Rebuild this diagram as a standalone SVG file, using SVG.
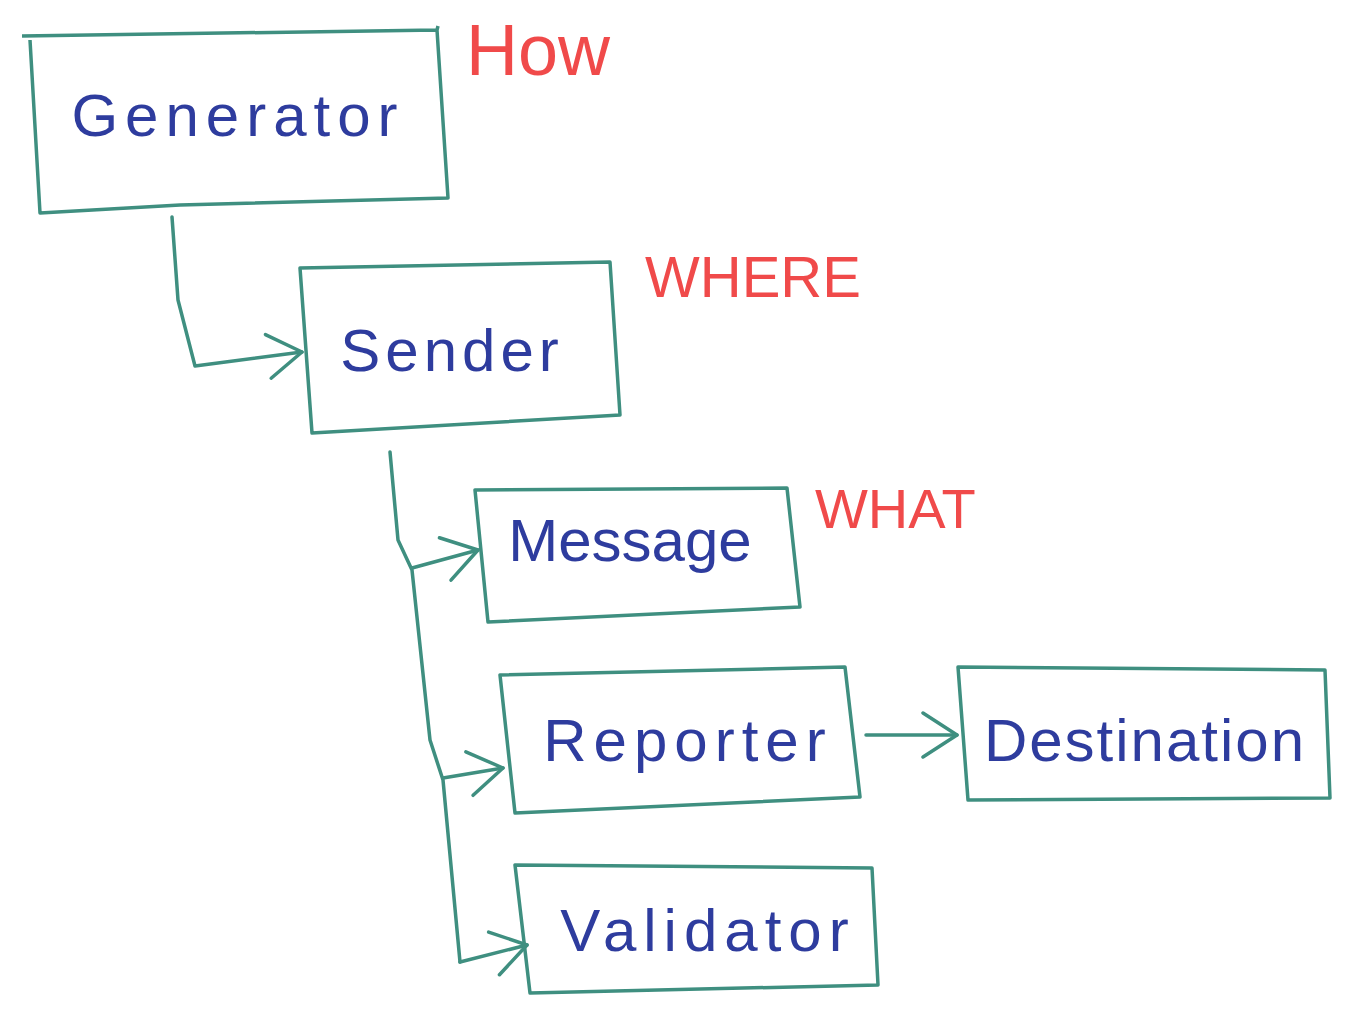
<svg xmlns="http://www.w3.org/2000/svg" width="1364" height="1020" viewBox="0 0 1364 1020">
<style>
.box{fill:none;stroke:#3f8f80;stroke-width:3.5;stroke-linejoin:round}
.conn{fill:none;stroke:#3f8f80;stroke-width:3.5;stroke-linecap:round;stroke-linejoin:round}
.lbl{font-family:"Liberation Sans",Arial,sans-serif;fill:#2e3c9e;font-size:60px;text-anchor:middle;dominant-baseline:central}
.tag{font-family:"Liberation Sans",Arial,sans-serif;fill:#f04a4a}
</style>
<defs>
<marker id="chevL" viewBox="0 0 40 50" refX="38" refY="25" markerWidth="40" markerHeight="50" markerUnits="userSpaceOnUse" orient="auto">
<path d="M4,3 L38,25 L4,47" fill="none" stroke="#3f8f80" stroke-width="3.5" stroke-linecap="round" stroke-linejoin="round"/>
</marker>
</defs>
<rect width="1364" height="1020" fill="#ffffff"/>
<g id="connectors">
<path class="conn" d="M172,217 L178,300 L195,366 L302,352" marker-end="url(#chevL)"/>
<path class="conn" d="M390,452 L398,540 L412,570 L430,740 L443,780 L460,962"/>
<path class="conn" d="M412,568 L478,550" marker-end="url(#chevL)"/>
<path class="conn" d="M443,778 L503,768" marker-end="url(#chevL)"/>
<path class="conn" d="M460,962 L527,945" marker-end="url(#chevL)"/>
<path class="conn" d="M866,735 L957,735" marker-end="url(#chevL)"/>
</g>
<g id="generator">
<path class="box" d="M22,36 L437,30 L438,26 M30,40 L40,213 L180,205 L448,198 L437,30"/>
<text class="lbl" x="238" y="115" letter-spacing="7">Generator</text>
</g>
<g id="sender">
<path class="box" d="M300,268 L610,262 L620,415 L312,433 Z"/>
<text class="lbl" x="452" y="350" letter-spacing="5">Sender</text>
</g>
<g id="message">
<path class="box" d="M475,490 L787,488 L800,607 L488,622 Z"/>
<text class="lbl" x="630" y="540">Message</text>
</g>
<g id="reporter">
<path class="box" d="M500,675 L845,667 L860,797 L515,813 Z"/>
<text class="lbl" x="688" y="740" letter-spacing="7">Reporter</text>
</g>
<g id="destination">
<path class="box" d="M958,667 L1325,670 L1330,798 L968,800 Z"/>
<text class="lbl" x="1145" y="740" letter-spacing="2">Destination</text>
</g>
<g id="validator">
<path class="box" d="M515,865 L872,868 L878,985 L530,993 Z"/>
<text class="lbl" x="708" y="930" letter-spacing="7">Validator</text>
</g>
<g id="labels">
<text class="tag" x="466" y="75" style="font-size:72px">How</text>
<text class="tag" x="645" y="297" style="font-size:58px">WHERE</text>
<text class="tag" x="815" y="528" style="font-size:56px">WHAT</text>
</g>
</svg>
